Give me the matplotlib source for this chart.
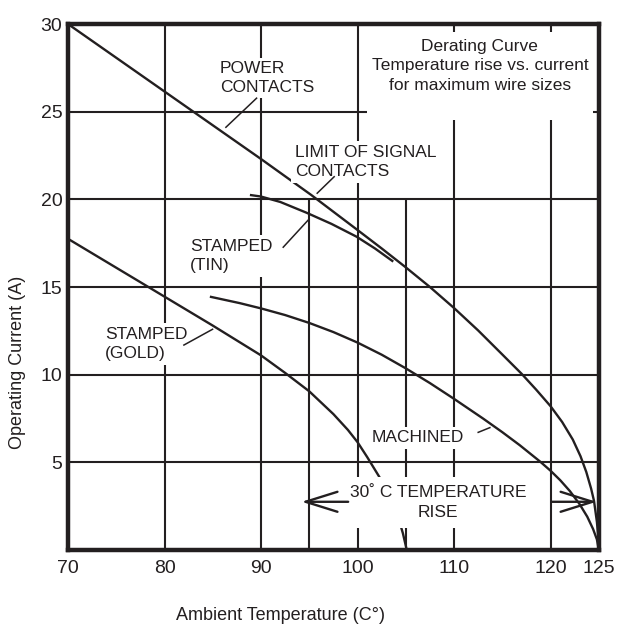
import matplotlib
matplotlib.use("Agg")
import matplotlib.pyplot as plt
from matplotlib.patches import Rectangle

plt.rcParams["font.family"] = ["Liberation Sans", "DejaVu Sans"]

ink = "#231f20"

# axes
x_ticks = [70, 80, 90, 100, 110, 120, 125]
y_ticks = [5, 10, 15, 20, 25, 30]
grid_x = [80, 90, 100, 110, 120]
grid_x_short = [95, 105]  # only drawn up to 20 A
grid_y = [5, 10, 15, 20, 25]

# curves (ambient temp in C, current in A)
power_t = [70, 80, 90, 95.2, 100, 102.5, 105, 107.5, 110, 112.5, 115, 117, 118.5, 120,
           121.2, 122.3, 123.1, 123.7, 124.2, 124.5, 124.8, 124.95, 125]
power_a = [30, 26.15, 22.3, 20.25, 18.25, 17.2, 16.12, 15.0, 13.8, 12.52, 11.15, 10.05, 9.15, 8.2,
           7.3, 6.3, 5.35, 4.45, 3.5, 2.8, 1.6, 0.7, 0]

tin_t = [88.85, 90, 92, 94.7, 97.3, 99.9, 101.8, 103.7]
tin_a = [20.25, 20.16, 19.85, 19.24, 18.6, 17.87, 17.2, 16.45]

gold_t = [70, 75, 80, 85, 90, 92.5, 95, 97.5, 99, 100, 101, 102, 102.5, 103.2, 103.8, 104.3, 104.7, 105.1]
gold_a = [17.75, 16.1, 14.45, 12.8, 11.1, 10.1, 9.05, 7.75, 6.85, 6.15, 5.3, 4.4, 3.95, 3.2, 2.45, 1.7, 0.95, 0]

mach_t = [84.7, 87.8, 90, 92.5, 95, 97.5, 100, 102.5, 105, 107.5, 110, 113, 115, 116.8, 118.9,
          120, 121, 122, 123, 123.8, 124.4, 124.8, 125]
mach_a = [14.45, 14.08, 13.78, 13.4, 12.95, 12.43, 11.83, 11.14, 10.36, 9.52, 8.62, 7.5, 6.72, 5.98, 5.05,
          4.52, 3.98, 3.36, 2.62, 1.9, 1.2, 0.6, 0]

fig = plt.figure(figsize=(6.18, 6.27), dpi=100)
ax = fig.add_axes([0.110, 0.1228, 0.859, 0.8389])
ax.set_xlim(70, 125)
ax.set_ylim(0, 30)

# grid
ax.vlines(grid_x, 0, 30, color=ink, lw=1.5, zorder=1)
ax.vlines(grid_x_short, 0, 20, color=ink, lw=1.5, zorder=1)
ax.hlines(grid_y, 70, 125, color=ink, lw=1.5, zorder=1)

# curves
for t, a in [(power_t, power_a), (tin_t, tin_a), (gold_t, gold_a), (mach_t, mach_a)]:
    ax.plot(t, a, color=ink, lw=1.7, zorder=2, solid_capstyle="butt", solid_joinstyle="round")

# white areas behind the two boxed notes
ax.add_patch(Rectangle((100.97, 24.53), 23.41, 5.02, fc="white", ec="none", zorder=3))
ax.add_patch(Rectangle((98.9, 1.25), 20.8, 2.91, fc="white", ec="none", zorder=3))

lbl = dict(fontsize=12.5, color=ink, zorder=5)
box = dict(boxstyle="square,pad=0.2", fc="white", ec="none")

ax.text(112.67, 27.61, "Derating Curve\nTemperature rise vs. current\nfor maximum wire sizes",
        ha="center", va="center", linespacing=1.4, **lbl)
ax.text(85.74, 26.93, "POWER\nCONTACTS", ha="left", va="center", linespacing=1.3, bbox=box, **lbl)
ax.text(93.51, 22.13, "LIMIT OF SIGNAL\nCONTACTS", ha="left", va="center", linespacing=1.35, bbox=box, **lbl)
ax.text(82.64, 16.77, "STAMPED\n(TIN)", ha="left", va="center", linespacing=1.4, bbox=box, **lbl)
ax.text(73.83, 11.75, "STAMPED\n(GOLD)", ha="left", va="center", linespacing=1.4, bbox=box, **lbl)
ax.text(106.2, 6.39, "MACHINED", ha="center", va="center", bbox=box, **lbl)
ax.text(108.32, 2.71, "30\u02da C TEMPERATURE\nRISE", ha="center", va="center", linespacing=1.35, **lbl)

# leader lines
leaders = [
    ((89.54, 86.36), (25.77, 24.11)),
    ((97.58, 95.82), (21.29, 20.35)),
    ((92.30, 94.89), (17.27, 18.82)),
    ((82.01, 84.98), (11.69, 12.59)),
    ((112.5, 113.71), (6.71, 6.98)),
]
for lx, ly in leaders:
    ax.plot(lx, ly, color=ink, lw=1.1, zorder=5)

# temperature rise arrows
arrow = dict(arrowstyle="->,head_length=2.3,head_width=0.72", lw=1.7, color=ink,
             shrinkA=0, shrinkB=0, mutation_scale=10)
ax.annotate("", xy=(94.2, 2.75), xytext=(99.03, 2.75), arrowprops=arrow, zorder=5)
ax.annotate("", xy=(124.76, 2.75), xytext=(120.1, 2.75), arrowprops=arrow, zorder=5)

# axes styling
ax.set_xticks(x_ticks)
ax.set_yticks(y_ticks)
ax.tick_params(length=0, labelsize=14, labelcolor=ink)
ax.tick_params(axis="x", pad=7)
ax.tick_params(axis="y", pad=4)
for s in ax.spines.values():
    s.set_linewidth(3.2)
    s.set_color(ink)
    s.set_zorder(6)

fig.text(280 / 618, 1 - 616 / 627, "Ambient Temperature (C\u00b0)", ha="center", va="center",
         fontsize=13, color=ink)
fig.text(18 / 618, 1 - 362 / 627, "Operating Current (A)", ha="center", va="center",
         rotation=90, fontsize=13, color=ink)

fig.savefig("out.png", dpi=100, facecolor="white")
